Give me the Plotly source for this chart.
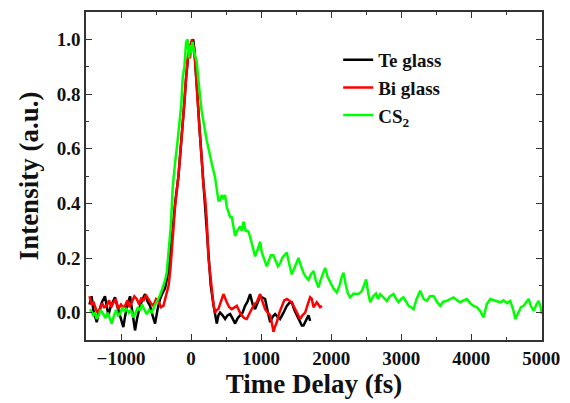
import plotly.graph_objects as go

# ---------------- data ----------------
te_x = [-1450,-1420,-1395,-1370,-1347,-1320,-1300,-1270,-1229,-1205,-1181,-1150,-1110,-1086,-1060,-1038,
        -1000,-967,-940,-910,-871,-840,-800,-770,-729,-690,-657,-620,-586,-550,-514,-480,-443,-410,-371,-340,
        -300,-260,-228,-180,-150,-121,-95,-71,-40,-10,15,30,45,57,75,90,119,152,175,190,210,248,281,319,345,367,
        390,414,450,486,520,557,590,629,665,700,735,771,805,843,880,914,950,986,1020,1057,1090,1129,1165,1200,
        1235,1271,1320,1367,1400,1438,1475,1510,1545,1581,1605,1629,1655,1676,1700]
te_y = [0.03,0.06,0.01,-0.02,-0.035,0.0,0.02,0.04,0.06,0.02,-0.01,0.02,0.045,0.056,0.03,0.01,
        -0.02,-0.053,-0.01,0.03,0.06,0.0,-0.065,-0.02,0.025,0.05,0.068,0.04,0.025,-0.01,-0.04,0.01,0.05,0.07,0.09,0.13,
        0.2,0.31,0.4,0.5,0.59,0.68,0.77,0.86,0.94,0.98,0.99,1.0,0.97,0.93,0.86,0.8,0.68,0.56,0.47,0.42,0.34,0.19,0.1,0.03,-0.01,-0.04,
        -0.01,0.0,-0.01,-0.023,-0.01,-0.005,-0.02,-0.04,-0.02,-0.01,0.0,0.025,0.04,0.068,0.03,0.013,0.04,0.06,0.055,0.05,0.01,-0.035,-0.015,-0.005,
        -0.015,-0.023,0.0,0.025,0.035,0.038,0.01,-0.01,-0.03,-0.047,-0.047,-0.035,-0.02,-0.01,-0.03]

bi_x = [-1450,-1420,-1395,-1371,-1340,-1300,-1270,-1240,-1205,-1170,-1140,-1110,-1075,-1038,-1000,-970,-943,-910,
        -880,-848,-810,-776,-740,-710,-681,-645,-610,-575,-538,-500,-467,-430,-395,-370,-347,-320,-295,-260,-228,
        -180,-150,-121,-95,-71,-40,-15,10,30,45,57,75,90,119,152,175,200,224,248,281,296,320,343,366,390,425,462,
        510,545,581,617,653,690,724,760,795,830,867,900,938,965,986,1020,1057,1095,1129,1155,1176,1200,1224,1260,
        1295,1330,1367,1400,1438,1486,1520,1557,1590,1629,1665,1700,1724,1748,1795,1843,1867]
bi_y = [0.06,0.03,0.04,0.025,0.0,0.013,0.035,0.02,0.025,0.045,0.02,0.037,0.05,0.013,0.03,0.02,0.025,0.045,
        0.02,0.037,0.06,0.05,0.03,0.055,0.043,0.065,0.05,0.035,0.025,0.05,0.043,0.02,0.025,0.05,0.07,0.1,0.16,0.3,0.39,
        0.5,0.59,0.68,0.77,0.86,0.95,0.93,1.0,0.98,0.96,0.92,0.86,0.8,0.68,0.56,0.47,0.42,0.34,0.2,0.11,0.09,0.03,0.0,0.01,0.013,0.04,0.068,
        0.038,0.02,0.013,0.02,0.025,0.005,-0.01,-0.02,-0.023,-0.005,0.013,0.03,0.038,0.06,0.068,0.04,0.013,0.0,-0.01,-0.04,-0.07,-0.05,-0.035,0.0,
        0.025,0.045,0.05,0.045,0.038,0.013,-0.005,-0.023,-0.01,0.0,0.03,0.056,0.05,0.02,0.038,0.02,0.025]

cs2_x = [-1443,-1420,-1395,-1370,-1347,-1320,-1290,-1252,-1220,-1190,-1160,-1133,-1100,-1070,-1040,-1014,-980,-950,
         -919,-890,-860,-824,-790,-760,-729,-700,-665,-633,-600,-562,-530,-490,-450,-420,-395,-370,-347,-320,-290,
         -261,-250,-228,-200,-167,-140,-119,-95,-71,-50,-30,-14,0,20,40,57,81,105,129,150,176,200,224,250,271,300,
         343,367,390,414,440,462,486,510,530,557,581,605,629,660,700,725,748,780,819,850,880,914,950,986,1010,1040,
         1081,1110,1140,1176,1210,1240,1271,1300,1330,1367,1400,1438,1470,1500,1533,1570,1605,1640,1676,1710,1748,
         1780,1819,1850,1880,1914,1950,1986,2030,2081,2120,2150,2176,2210,2240,2271,2320,2367,2400,2440,2470,2500,
         2530,2557,2600,2640,2670,2700,2750,2795,2840,2890,2930,2962,3000,3033,3070,3105,3140,3176,3220,3250,3271,
         3320,3367,3410,3462,3510,3557,3600,3652,3700,3748,3800,3843,3890,3938,3985,4033,4080,4130,4176,4220,4271,
         4320,4370,4414,4460,4510,4557,4600,4629,4670,4710,4748,4790,4819,4850,4890,4930,4962,4990,5010]
cs2_y = [0.013,0.0,-0.01,0.0,-0.023,-0.01,0.01,-0.005,-0.02,0.0,-0.02,-0.04,-0.01,0.01,-0.01,-0.005,0.02,0.005,
         0.013,0.0,0.01,-0.017,0.0,0.02,0.007,0.03,0.01,-0.005,0.01,0.001,0.02,0.038,0.06,0.08,0.098,0.12,0.147,0.22,0.315,
         0.46,0.5,0.55,0.61,0.68,0.76,0.86,0.9,0.99,1.0,0.93,0.98,0.95,0.99,0.96,0.94,0.917,0.85,0.785,0.74,0.7,0.66,0.63,0.6,0.57,0.54,
         0.495,0.447,0.41,0.41,0.43,0.42,0.43,0.387,0.37,0.35,0.35,0.31,0.28,0.3,0.315,0.3,0.333,0.3,0.297,0.27,0.24,0.206,0.23,0.26,0.22,0.2,
         0.17,0.19,0.21,0.21,0.19,0.17,0.18,0.2,0.21,0.22,0.18,0.14,0.16,0.18,0.2,0.17,0.146,0.13,0.12,0.14,0.152,
         0.12,0.092,0.12,0.14,0.164,0.13,0.11,0.09,0.074,0.1,0.13,0.146,0.1,0.07,0.056,0.07,0.068,0.07,0.08,0.1,0.122,
         0.07,0.038,0.06,0.07,0.05,0.068,0.055,0.043,0.06,0.068,0.05,0.038,0.05,0.056,0.04,0.025,0.02,0.013,0.05,0.07,0.08,
         0.05,0.043,0.06,0.061,0.04,0.025,0.04,0.043,0.05,0.056,0.045,0.038,0.045,0.05,0.035,0.025,0.02,0.005,-0.017,0.03,0.05,
         0.045,0.04,0.038,0.045,0.035,0.043,0.01,-0.023,0.0,0.02,0.025,0.04,0.05,0.025,0.007,0.03,0.043,0.02,-0.005]

series_names = ["Te glass", "Bi glass", "CS<sub>2</sub>"]
series_colors = ["#000000", "#ff0000", "#00ff00"]

x_ticks = [-1000, 0, 1000, 2000, 3000, 4000, 5000]
y_ticks = [0.0, 0.2, 0.4, 0.6, 0.8, 1.0]
y_tick_labels = ["0.0", "0.2", "0.4", "0.6", "0.8", "1.0"]

FONT = "Liberation Serif"
AXC = "#333333"

fig = go.Figure()
for xs, ys, name, col in zip([te_x, bi_x, cs2_x], [te_y, bi_y, cs2_y], series_names, series_colors):
    fig.add_trace(go.Scatter(x=xs, y=ys, mode="lines", name=name,
                             line=dict(color=col, width=2.5)))

axis_common = dict(showline=True, linecolor=AXC, linewidth=1.5, mirror="ticks",
                   ticks="inside", ticklen=6, tickwidth=1.2, tickcolor=AXC,
                   showgrid=False, zeroline=False,
                   tickfont=dict(family=FONT, size=19, color="#111111", weight="bold"))

fig.update_xaxes(range=[-1500, 5010], tickvals=x_ticks,
                 minor=dict(ticks="inside", dtick=500, ticklen=3, tickcolor=AXC, tickwidth=1.2),
                 title=dict(text="Time Delay (fs)", standoff=6,
                            font=dict(family=FONT, size=27, color="#111111", weight="bold")),
                 **axis_common)
fig.update_yaxes(range=[-0.1, 1.1], tickvals=y_ticks, ticktext=y_tick_labels,
                 minor=dict(ticks="inside", dtick=0.1, ticklen=3, tickcolor=AXC, tickwidth=1.2),
                 title=dict(text="Intensity (a.u.)", standoff=10,
                            font=dict(family=FONT, size=27, color="#111111", weight="bold")),
                 **axis_common)

fig.update_layout(
    width=570, height=403,
    margin=dict(l=86, r=28, t=10, b=61),
    plot_bgcolor="white", paper_bgcolor="white",
    showlegend=True,
    legend=dict(x=0.553, y=0.912, xanchor="left", yanchor="top",
                bgcolor="rgba(0,0,0,0)", borderwidth=0,
                font=dict(family=FONT, size=19, color="#111111", weight="bold")),
)

fig.write_html("out.html")
